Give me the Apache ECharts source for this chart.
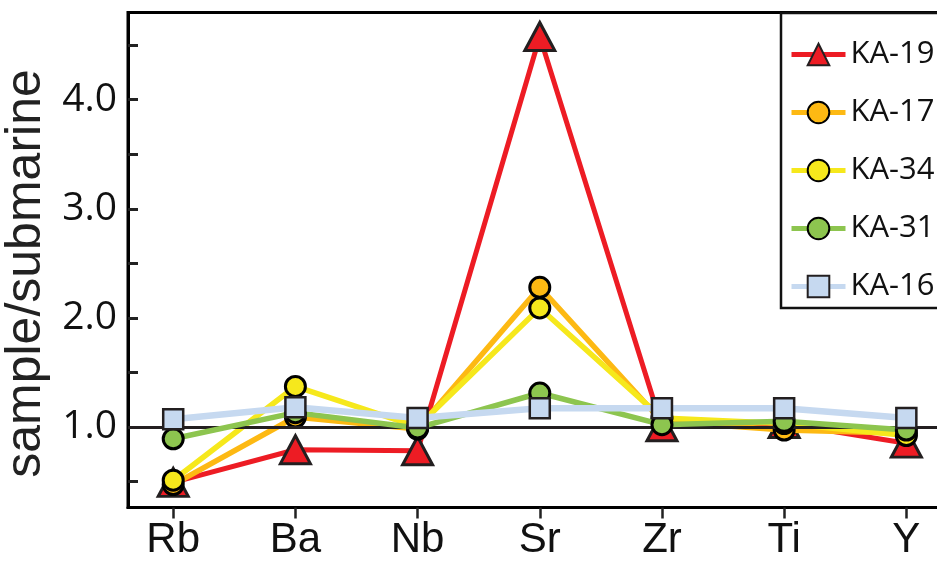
<!DOCTYPE html>
<html>
<head>
<meta charset="utf-8">
<script src="https://cdn.jsdelivr.net/npm/echarts@6/dist/echarts.min.js"></script>
<style>
html,body{margin:0;padding:0;background:#fff;}
#chart{width:937px;height:572px;}
</style>
</head>
<body>
<div id="chart"></div>
<script>
const categories = ['Rb', 'Ba', 'Nb', 'Sr', 'Zr', 'Ti', 'Y'];
const seriesNames = ['KA-19', 'KA-17', 'KA-34', 'KA-31', 'KA-16'];
const ka19 = [0.49, 0.79, 0.78, 4.58, 1.00, 1.03, 0.85];
const ka17 = [0.47, 1.09, 0.98, 2.28, 1.05, 0.97, 0.94];
const ka34 = [0.51, 1.37, 1.00, 2.09, 1.08, 1.03, 0.92];
const ka31 = [0.89, 1.13, 0.99, 1.31, 1.02, 1.05, 0.97];
const ka16 = [1.07, 1.18, 1.08, 1.17, 1.17, 1.17, 1.08];
const yTickValues = [0.5, 1.0, 1.5, 2.0, 2.5, 3.0, 3.5, 4.0, 4.5];
const yLabelValues = [1.0, 2.0, 3.0, 4.0];
const referenceLine = 1.0;

const catIdx = categories.map((c, i) => i);
function pts(arr) { return arr.map((v, i) => [i, v]); }

const styles = {
  'KA-19': {color: '#ED1C24', symbol: 'triangle', size: [30, 28], border: '#231F20', bw: 3, lw: 5},
  'KA-17': {color: '#FDB913', symbol: 'circle', size: 20, border: '#000000', bw: 3, lw: 5.5},
  'KA-34': {color: '#F6E81C', symbol: 'circle', size: 20, border: '#000000', bw: 3, lw: 5.5},
  'KA-31': {color: '#8DC54F', symbol: 'circle', size: 20, border: '#000000', bw: 3, lw: 5.5},
  'KA-16': {color: '#C6D9F0', symbol: 'rect', size: 20, border: '#231F20', bw: 2.5, lw: 6.5}
};
const dataByName = {'KA-19': ka19, 'KA-17': ka17, 'KA-34': ka34, 'KA-31': ka31, 'KA-16': ka16};

const series = seriesNames.map((name, k) => {
  const s = styles[name];
  const obj = {
    name: name,
    type: 'line',
    data: pts(dataByName[name]),
    symbol: s.symbol,
    symbolSize: s.size,
    showAllSymbol: true,
    lineStyle: {color: s.color, width: s.lw},
    itemStyle: {color: s.color, borderColor: s.border, borderWidth: s.bw, opacity: 1},
    emphasis: {disabled: true},
    animation: false,
    z: 2 + k
  };
  if (k === 0) {
    obj.markLine = {
      silent: true,
      symbol: 'none',
      label: {show: false},
      lineStyle: {color: '#231F20', width: 3, type: 'solid'},
      data: [{yAxis: referenceLine}],
      animation: false
    };
  }
  return obj;
});

const chart = echarts.init(document.getElementById('chart'), null, {renderer: 'canvas'});
chart.setOption({
  backgroundColor: '#ffffff',
  animation: false,
  grid: {
    left: 128, top: 12.5, width: 815, height: 495,
    outerBoundsMode: 'none', containLabel: false,
    show: true, borderColor: '#000', borderWidth: 3, backgroundColor: 'transparent'
  },
  xAxis: {
    type: 'value',
    min: -0.37, max: 6.3,
    splitLine: {show: false},
    axisLine: {show: true, onZero: false, lineStyle: {color: '#000', width: 3}},
    axisTick: {show: true, inside: false, length: 11, customValues: catIdx, lineStyle: {color: '#222', width: 2.5}},
    axisLabel: {
      customValues: catIdx,
      formatter: v => categories[Math.round(v)],
      fontFamily: 'Liberation Sans', fontSize: 42, color: '#111', margin: 12
    }
  },
  yAxis: {
    type: 'value',
    min: 0.26, max: 4.8,
    name: 'sample/submarine',
    nameLocation: 'middle',
    nameGap: 61,
    nameTextStyle: {fontFamily: 'Liberation Sans', fontSize: 50, color: '#222', padding: [0, 27, 0, 0]},
    splitLine: {show: false},
    axisLine: {show: true, onZero: false, lineStyle: {color: '#000', width: 3}},
    axisTick: {show: true, inside: true, length: 10, customValues: yTickValues, lineStyle: {color: '#222', width: 3}},
    axisLabel: {
      customValues: yLabelValues,
      formatter: v => v.toFixed(1),
      fontFamily: 'Open Sans', fontSize: 39, color: '#111', margin: 11
    }
  },
  legend: {
    orient: 'vertical',
    left: 781, top: 13,
    padding: [26, 20, 6, 8],
    itemWidth: 54, itemHeight: 27, itemGap: 27,
    borderColor: '#111', borderWidth: 2.5, backgroundColor: '#fff',
    lineStyle: {width: 5},
    textStyle: {fontFamily: 'Open Sans', fontSize: 31, color: '#111'},
    data: seriesNames
  },
  series: series
});
</script>
</body>
</html>
